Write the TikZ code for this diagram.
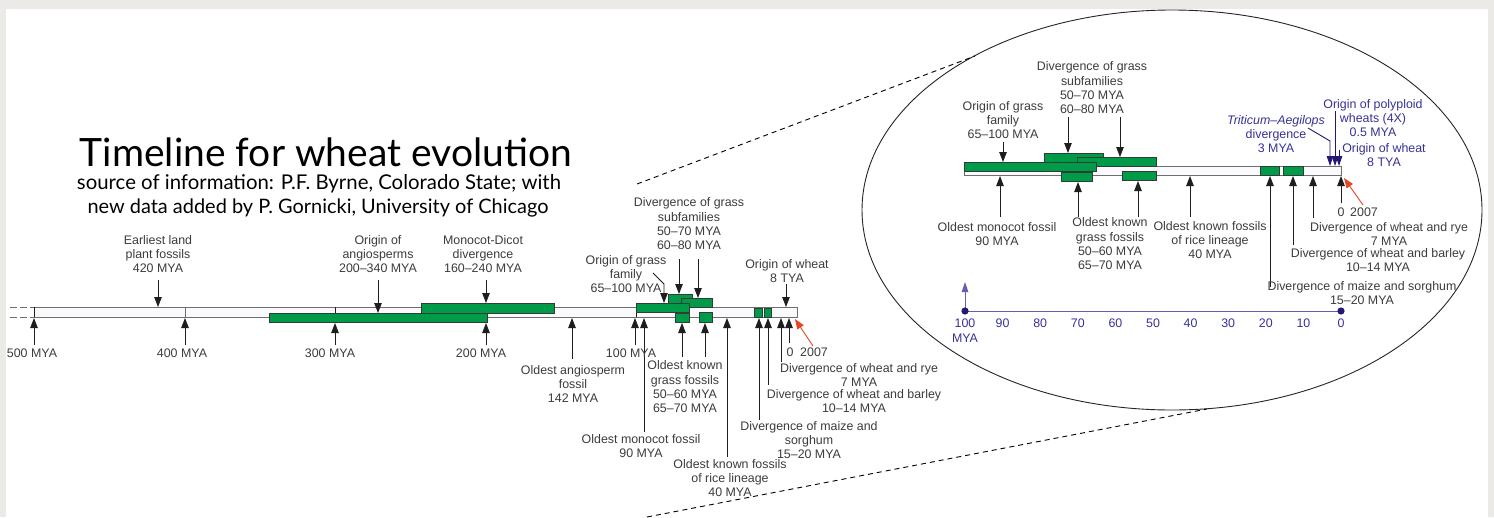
\documentclass[tikz,border=0pt]{standalone}
\usepackage{fontspec}
\usepackage{graphicx}
\setmainfont{Liberation Sans}
\newfontfamily\titlefont{Lato}
\usetikzlibrary{arrows.meta,shapes.geometric}
\definecolor{bggray}{RGB}{236,234,230}
\definecolor{txtc}{RGB}{60,60,60}
\definecolor{arrc}{RGB}{30,30,30}
\definecolor{barfill}{RGB}{250,250,252}
\definecolor{barline}{RGB}{110,110,110}
\definecolor{grn}{RGB}{0,155,72}
\definecolor{grnline}{RGB}{50,60,55}
\definecolor{navy}{RGB}{35,25,115}
\definecolor{bluet}{RGB}{55,50,150}
\definecolor{axisc}{RGB}{100,95,175}
\definecolor{redarr}{RGB}{230,70,35}
\newcommand\arrAt[5]{\coordinate (#1s) at (#3,#4); \coordinate (#1e) at (#3,#5); \draw[#2] (#1s) -- (#1e);}
\begin{document}
\begin{tikzpicture}[x=1pt,y=-1pt,
 lbl/.style={align=center,text=txtc,inner sep=0pt,font=\fontsize{12.4}{14.3}\selectfont},
 blbl/.style={lbl,text=bluet},
 arr/.style={draw=arrc,line width=0.9pt,-{Triangle[length=10pt,width=7.5pt]}},
 barr/.style={draw=navy,line width=0.9pt,-{Triangle[length=10pt,width=6.5pt]}},
 rarr/.style={draw=redarr,line width=0.9pt,-{Triangle[length=10pt,width=7.5pt]}},
 gbar/.style={fill=grn,draw=grnline,line width=0.9pt},
 tbar/.style={fill=barfill,draw=barline,line width=1pt},
 tick/.style={draw=barline,line width=0.9pt},
 zoomline/.style={draw=black,line width=0.9pt,dash pattern=on 5pt off 4pt},
]
\useasboundingbox (0,0) rectangle (1494,517);
\fill[bggray] (0,0) rectangle (1494,517);
\fill[white] (6,9) rectangle (1488,517);

% title
\node[inner sep=0pt] (title) at (326,152) {\resizebox{492pt}{!}{\titlefont Timeline for wheat evolution}};
\node[inner sep=0pt] (sub1) at (319,184) {\resizebox{484pt}{!}{\titlefont source of information: P.F. Byrne, Colorado State; with}};
\node[inner sep=0pt] (sub2) at (318,208) {\resizebox{461pt}{!}{\titlefont new data added by P. Gornicki, University of Chicago}};

% zoom ellipse and dashed lines
\node[draw=black!85,line width=0.9pt,ellipse,minimum width=620pt,minimum height=400pt,inner sep=0pt] (zoom) at (1172,210) {};
\coordinate (d1a) at (637,184); \coordinate (d1b) at (975,56);
\draw[zoomline] (d1a) -- (d1b);
\coordinate (d2a) at (647,517); \coordinate (d2b) at (1207,409);
\draw[zoomline] (d2a) -- (d2b);

% ===== main timeline =====
\coordinate (dl1a) at (10,307); \coordinate (dl1b) at (34,307);
\coordinate (dl2a) at (10,317); \coordinate (dl2b) at (34,317);
\draw[tick,dash pattern=on 7pt off 3pt] (dl1a) -- (dl1b);
\draw[tick,dash pattern=on 7pt off 3pt] (dl2a) -- (dl2b);
\draw[tbar] (34,307) rectangle (797,317);
\draw[tick,draw=arrc] (34,307) -- (34,317);
\draw[tick] (185,307) -- (185,317);
\draw[tick,draw=arrc] (335,307) -- (335,313);
\draw[tick,draw=arrc] (636,312) -- (636,317);

\draw[gbar] (269,313) rectangle (487,322);
\draw[gbar] (421,303) rectangle (554,313);
\draw[gbar] (668,294) rectangle (692,303);
\draw[gbar] (681,298) rectangle (712,307);
\draw[gbar] (636,303) rectangle (689,312);
\draw[gbar] (675,313) rectangle (689,322);
\draw[gbar] (699,312) rectangle (712,322);
\draw[gbar] (754,308) rectangle (762,317);
\draw[gbar] (764,308) rectangle (771,317);

% arrows above
\arrAt{u420}{arr}{158}{280}{307}
\arrAt{uang}{arr}{378}{280}{313}
\arrAt{umd}{arr}{486}{280}{303}
\arrAt{usf1}{arr}{679}{259}{294}
\arrAt{usf2}{arr}{698}{259}{298}
\arrAt{uow}{arr}{786}{284}{307}
\coordinate (gfa) at (653,273); \coordinate (gfb) at (664,284); \coordinate (gfc) at (664,303);
\draw[arr] (gfa) -- (gfb) -- (gfc);

% arrows below
\arrAt{b500}{arr}{34}{345}{318}
\arrAt{b400}{arr}{185}{345}{318}
\arrAt{b300}{arr}{335}{345}{323}
\arrAt{b200}{arr}{486}{345}{323}
\arrAt{b142}{arr}{572}{359}{318}
\arrAt{b100}{arr}{635}{345}{318}
\arrAt{b90}{arr}{644}{432}{318}
\arrAt{bgf1}{arr}{682}{357}{323}
\arrAt{bgf2}{arr}{705}{357}{323}
\arrAt{b40}{arr}{727}{457}{318}
\arrAt{b15}{arr}{759}{420}{318}
\arrAt{b10}{arr}{768}{385}{318}
\arrAt{b7}{arr}{781}{362}{318}
\arrAt{b0}{arr}{789}{343}{318}
\coordinate (r1s) at (813,346); \coordinate (r1e) at (795,319);
\draw[rarr] (r1s) -- (r1e);

% labels above
\node[lbl] (l420) at (158,254) {Earliest land\\plant fossils\\420 MYA};
\node[lbl] (lang) at (378,254) {Origin of\\angiosperms\\200–340 MYA};
\node[lbl] (lmd) at (483,254) {Monocot-Dicot\\divergence\\160–240 MYA};
\node[lbl] (lsf) at (689,224) {Divergence of grass\\subfamilies\\50–70 MYA\\60–80 MYA};
\node[lbl] (lgf) at (626,274) {Origin of grass\\family\\65–100 MYA};
\node[lbl] (low) at (787,271) {Origin of wheat\\8 TYA};

% labels below
\node[lbl] (t500) at (32,353) {500 MYA};
\node[lbl] (t400) at (182,353) {400 MYA};
\node[lbl] (t300) at (330,353) {300 MYA};
\node[lbl] (t200) at (481,353) {200 MYA};
\node[lbl] (t100) at (631,353) {100 MYA};
\node[lbl] (l142) at (573,384) {Oldest angiosperm\\fossil\\142 MYA};
\node[lbl] (l90) at (641,446) {Oldest monocot fossil\\90 MYA};
\node[lbl] (lgfos) at (685,387) {Oldest known\\grass fossils\\50–60 MYA\\65–70 MYA};
\node[lbl] (l40) at (730,478) {Oldest known fossils\\of rice lineage\\40 MYA};
\node[lbl] (l15) at (809,440) {Divergence of maize and\\sorghum\\15–20 MYA};
\node[lbl] (l10) at (854,401) {Divergence of wheat and barley\\10–14 MYA};
\node[lbl] (l7) at (859,375) {Divergence of wheat and rye\\7 MYA};
\node[lbl] (t0) at (790,352) {0};
\node[lbl] (t2007) at (814,352) {2007};

% ===== zoomed timeline =====
\draw[tbar] (964,166) rectangle (1341,175);
\draw[gbar] (1044,153) rectangle (1103,162);
\draw[gbar] (1077,157) rectangle (1156,166);
\draw[gbar] (964,162) rectangle (1096,171);
\draw[gbar] (1061,172) rectangle (1092,181);
\draw[gbar] (1122,171) rectangle (1156,180);
\draw[gbar] (1260,166) rectangle (1279,175);
\draw[gbar] (1283,166) rectangle (1303,175);

\arrAt{eu1}{arr}{1003}{142}{162}
\arrAt{eu2}{arr}{1068}{117}{153}
\arrAt{eu3}{arr}{1120}{117}{157}
\coordinate (tta) at (1308,128); \coordinate (ttb) at (1330,141); \coordinate (ttc) at (1330,166);
\draw[barr] (tta) -- (ttb) -- (ttc);
\arrAt{bpp}{barr}{1335}{111}{166}
\arrAt{bow}{barr}{1339}{150}{166}

\arrAt{eb90}{arr}{1000}{217}{176}
\arrAt{ebg1}{arr}{1078}{217}{182}
\arrAt{ebg2}{arr}{1138}{217}{181}
\arrAt{eb40}{arr}{1190}{217}{176}
\arrAt{eb15}{arr}{1270}{287}{176}
\arrAt{eb10}{arr}{1293}{245}{176}
\arrAt{eb7}{arr}{1313}{218}{176}
\arrAt{eb0}{arr}{1341}{203}{176}
\coordinate (r2s) at (1363,205); \coordinate (r2e) at (1344,178);
\draw[rarr] (r2s) -- (r2e);

\node[lbl] (egf) at (1003,120) {Origin of grass\\family\\65–100 MYA};
\node[lbl] (esf) at (1092,88) {Divergence of grass\\subfamilies\\50–70 MYA\\60–80 MYA};
\node[blbl] (ett) at (1276,134) {\textit{Triticum–Aegilops}\\divergence\\3 MYA};
\node[blbl] (epp) at (1373,118) {Origin of polyploid\\wheats (4X)\\0.5 MYA};
\node[blbl] (eow) at (1384,155) {Origin of wheat\\8 TYA};

\node[lbl] (e90) at (997,234) {Oldest monocot fossil\\90 MYA};
\node[lbl] (egfos) at (1110,244) {Oldest known\\grass fossils\\50–60 MYA\\65–70 MYA};
\node[lbl] (e40) at (1210,240) {Oldest known fossils\\of rice lineage\\40 MYA};
\node[lbl] (e15) at (1362,293) {Divergence of maize and sorghum\\15–20 MYA};
\node[lbl] (e10) at (1378,260) {Divergence of wheat and barley\\10–14 MYA};
\node[lbl] (e7) at (1389,234) {Divergence of wheat and rye\\7 MYA};
\node[lbl] (e0) at (1341,212) {0};
\node[lbl] (e2007) at (1364,212) {2007};

% axis
\coordinate (ax0) at (965,311); \coordinate (ax1) at (1341,311); \coordinate (axu) at (965,282);
\draw[draw=axisc,line width=1pt] (ax0) -- (ax1);
\draw[barr,draw=axisc] (ax0) -- (axu);
\fill[navy] (ax0) circle (3.6);
\fill[navy] (ax1) circle (3.6);
\foreach \t in {100,90,...,0} {
  \node[blbl] (axl\t) at ({1341-3.76*\t},323) {\t};
}
\node[blbl] (axm) at (965,338) {MYA};
\end{tikzpicture}
\end{document}
